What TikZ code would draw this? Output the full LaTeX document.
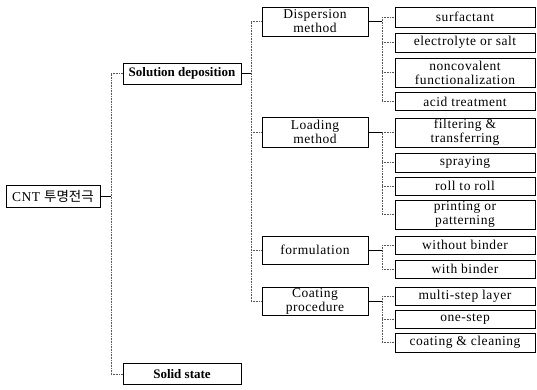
\documentclass[tikz,border=0pt]{standalone}
\usepackage{fontspec}
\setmainfont{Liberation Serif}
\newfontfamily\kor{Noto Sans CJK KR}
\usepackage{tikz}
\usetikzlibrary{calc}

\begin{document}
\begin{tikzpicture}[x=1pt, y=-1pt,
    box/.style = {draw, line width=0.7pt, inner sep=0pt, align=center,
                  font=\fontsize{13.5}{14}\selectfont\addfontfeatures{LetterSpace=4}},
    root/.style = {box, minimum width=94pt, minimum height=22pt},
    top/.style = {box, minimum width=118pt, minimum height=21pt,
                  font=\fontsize{13}{13}\selectfont\bfseries},
    mid/.style = {box, minimum width=106pt},
    leaf/.style = {box, minimum width=140pt},
    stub/.style = {line width=0.7pt},
    bus/.style = {line width=0.6pt, densely dotted, black!65}]
    % Parametri
    \pgfmathsetmacro{\xa}{111}
    \pgfmathsetmacro{\xb}{251}
    \pgfmathsetmacro{\xc}{382}
    \useasboundingbox (0,0) rectangle (537,389);
    % Radice
    \node[root] (cnt) at (53,196) {CNT {\kor 투명전극}};
    % Livello 1
    \node[top] (sol) at (182,73.5) {Solution deposition};
    \node[top] (solid) at (182,374) {Solid state};
    % Livello 2
    \node[mid, minimum height=29pt] (disp) at (315,21.5) {Dispersion\\method};
    \node[mid, minimum height=30pt] (load) at (315,132) {Loading\\method};
    \node[mid, minimum height=28pt] (form) at (315,250) {formulation};
    \node[mid, minimum height=28pt] (coat) at (315,301) {Coating\\procedure};
    % Foglie
    \node[leaf, minimum height=20pt] (surf) at (465,17) {surfactant};
    \node[leaf, minimum height=19pt] (elec) at (465,42.5) {electrolyte or salt};
    \node[leaf, minimum height=29pt] (ncov) at (465,72.5) {noncovalent\\functionalization};
    \node[leaf, minimum height=18pt] (acid) at (465,101.5) {acid treatment};
    \node[leaf, minimum height=29pt] (filt) at (465,132.5) {filtering \&\\transferring};
    \node[leaf, minimum height=19pt] (spray) at (465,162.5) {spraying};
    \node[leaf, minimum height=18pt] (roll) at (465,186) {roll to roll};
    \node[leaf, minimum height=29pt] (print) at (465,214.5) {printing or\\patterning};
    \node[leaf, minimum height=18pt] (nobind) at (465,245) {without binder};
    \node[leaf, minimum height=18pt] (bind) at (465,269) {with binder};
    \node[leaf, minimum height=18pt] (multi) at (465,296) {multi-step layer};
    \node[leaf, minimum height=18pt] (one) at (465,319) {one-step};
    \node[leaf, minimum height=19pt] (clean) at (465,342.5) {coating \& cleaning};
    % Collegamenti radice
    \coordinate (ba) at (\xa,196);
    \draw[stub] (cnt.east) -- (ba);
    \draw[bus] (ba |- sol) -- (ba |- solid);
    \foreach \n in {sol,solid}
        \draw[bus] (ba |- \n) -- (\n.west);
    % Collegamenti livello 1
    \coordinate (bb) at (\xb,73.5);
    \draw[stub] (sol.east) -- (bb);
    \draw[bus] (bb |- disp) -- (bb |- coat);
    \foreach \n in {disp,load,form,coat}
        \draw[bus] (bb |- \n) -- (\n.west);
    % Collegamenti livello 2
    \foreach \p/\f/\l/\all in {disp/surf/acid/{surf,elec,ncov,acid},
                               load/filt/print/{filt,spray,roll,print},
                               form/nobind/bind/{nobind,bind},
                               coat/multi/clean/{multi,one,clean}} {
        \coordinate (bc) at (\xc,0);
        \draw[stub] (\p.east) -- (bc |- \p);
        \draw[bus] (bc |- \f) -- (bc |- \l);
        \foreach \n in \all
            \draw[bus] (bc |- \n) -- (\n.west);
    }
\end{tikzpicture}
\end{document}
